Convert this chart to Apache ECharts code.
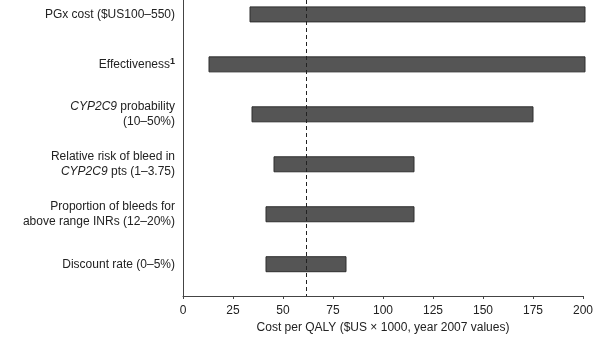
<!DOCTYPE html>
<html><head><meta charset="utf-8">
<script src="https://cdn.jsdelivr.net/npm/echarts@6/dist/echarts.min.js"></script>
<style>html,body{margin:0;padding:0;background:#fff}#c{width:598px;height:339px}</style>
</head><body><div id="c"></div>
<script>
// Parameters (top to bottom)
const categories = [
  "PGx cost ($US100–550)",
  "Effectiveness¹",
  "CYP2C9 probability\n(10–50%)",
  "Relative risk of bleed in\nCYP2C9 pts (1–3.75)",
  "Proportion of bleeds for\nabove range INRs (12–20%)",
  "Discount rate (0–5%)"
];
const lowValues  = [33.5, 13, 34.5, 45.5, 41.5, 41.5];
const highValues = [201, 201, 175, 115.5, 115.5, 81.5];
const baseCase = 61.5;
const xTickStep = 25;
const xMin = 0, xMax = 200;
const xTitle = "Cost per QALY ($US × 1000, year 2007 values)";
const rowPositions = categories.map((c, i) => i + 1);

const data = categories.map((c, i) => [rowPositions[i], lowValues[i], highValues[i]]);

function fmtLabel(v) {
  const r = Math.round(v);
  if (Math.abs(v - r) > 1e-6 || r < 1 || r > categories.length) return '';
  return categories[r - 1]
    .replace(/CYP2C9/g, '{it|CYP2C9}')
    .replace(/¹/g, '{sup|1}');
}

const chart = echarts.init(document.getElementById('c'), null, {renderer: 'canvas'});
const font = "'Liberation Sans', Arial, Helvetica, sans-serif";
chart.setOption({
  animation: false,
  backgroundColor: '#fff',
  grid: {left: 183, right: 15, top: 0, bottom: 41, containLabel: false},
  xAxis: {
    type: 'value', min: xMin, max: xMax, interval: xTickStep,
    axisLine: {show: true, lineStyle: {color: '#444', width: 1}},
    axisTick: {show: true, length: 3, lineStyle: {color: '#444'}},
    splitLine: {show: false},
    axisLabel: {fontSize: 12, color: '#222', margin: 9, fontFamily: font},
    name: xTitle, nameLocation: 'middle', nameGap: 26,
    nameTextStyle: {fontSize: 12, color: '#222', fontFamily: font}
  },
  yAxis: {
    type: 'value', inverse: true, min: 0.71173, max: 6.6362,
    axisLine: {show: true, lineStyle: {color: '#444', width: 1}},
    axisTick: {show: false},
    splitLine: {show: false},
    axisLabel: {
      show: true,
      customValues: rowPositions,
      margin: 8, fontSize: 12, color: '#222', fontFamily: font, lineHeight: 15,
      formatter: fmtLabel,
      rich: {
        it: {fontStyle: 'italic', fontSize: 12, color: '#222', fontFamily: font, lineHeight: 15},
        sup: {fontWeight: 'bold', fontSize: 9, color: '#222', fontFamily: font, lineHeight: 9, verticalAlign: 'top'}
      }
    }
  },
  series: [{
    type: 'custom',
    data: data,
    encode: {x: [1, 2], y: 0},
    clip: false,
    renderItem: function (params, api) {
      const y = api.value(0);
      const lo = api.coord([api.value(1), y]);
      const hi = api.coord([api.value(2), y]);
      const h = 15;
      return {
        type: 'rect',
        shape: {x: lo[0], y: lo[1] - h / 2, width: hi[0] - lo[0], height: h},
        style: {fill: '#555555', stroke: '#2e2e2e', lineWidth: 1}
      };
    },
    markLine: {
      silent: true, symbol: 'none',
      label: {show: false},
      lineStyle: {color: '#222', type: [4, 3], width: 1},
      data: [{xAxis: baseCase}]
    }
  }]
});
</script></body></html>
